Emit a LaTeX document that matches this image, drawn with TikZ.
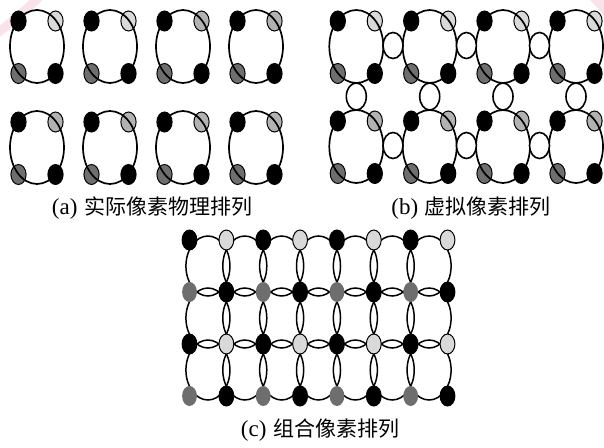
\documentclass[tikz,border=0pt]{standalone}
\usepackage{fontspec}
\setmainfont{Liberation Serif}
\newfontfamily\cjk{Noto Sans CJK SC}

\definecolor{lightdot}{gray}{0.85}
\definecolor{middot}{gray}{0.70}
\definecolor{darkdot}{gray}{0.43}
\definecolor{stamp}{RGB}{246,214,224}

% one physical pixel: centre x, centre y, colour of the upper right sub-pixel
\newcommand\physpixel[3]{%
  \filldraw[subpix, fill=black]  (#1-18.5,#2-25.5) ellipse [x radius=7.6, y radius=10];
  \filldraw[subpix, fill=#3]     (#1+18.5,#2-25.5) ellipse [x radius=7.6, y radius=10];
  \filldraw[subpix, fill=darkdot](#1-18.5,#2+27)   ellipse [x radius=7.6, y radius=10];
  \filldraw[subpix, fill=black]  (#1+18.5,#2+27)   ellipse [x radius=7.6, y radius=10];
  \draw[bigring] (#1,#2) ellipse [x radius=27, y radius=36.5];
}
% caption: Latin label followed by Chinese text
\newcommand\figcap[2]{{\fontsize{23}{26}\selectfont #1}\hspace{6.5pt}{\cjk\fontsize{21}{24}\selectfont #2}}

\begin{document}
\begin{tikzpicture}[x=1pt, y=-1pt,
  bigring/.style={line width=1.7pt},
  subpix/.style={line width=1pt},
  virtpix/.style={line width=1.6pt, fill=white},
  combring/.style={line width=1.5pt},
  caption/.style={inner sep=0pt}]
\useasboundingbox (0,0) rectangle (604,447);

% faint stamp strokes in the corners
\draw[stamp, line width=9pt, line cap=round, opacity=0.7]
  (-4,34) .. controls (12,22) and (26,10) .. (40,-4);
\fill[stamp, opacity=0.7] (590,0) -- (604,0) -- (604,16) .. controls (598,8) .. (590,0);

% (a) physical arrangement
\foreach \cx/\col in {37/lightdot, 110/lightdot, 183/middot, 256/middot}
  \physpixel{\cx}{46.5}{\col};
\foreach \cx in {37, 110, 183, 256}
  \physpixel{\cx}{147.5}{middot};
\node[caption] (capa) at (152,208) {\figcap{(a)}{实际像素物理排列}};

% (b) virtual arrangement
\foreach \cx in {356.3, 429.7, 503, 576}
  \physpixel{\cx}{46.5}{lightdot};
\foreach \cx in {356.3, 429.7, 503, 576}
  \physpixel{\cx}{146.5}{middot};
\foreach \cx in {393, 466.4, 539.5} {
  \filldraw[virtpix] (\cx,45.5)  ellipse [x radius=10, y radius=13];
  \filldraw[virtpix] (\cx,145.5) ellipse [x radius=10, y radius=13];
}
\foreach \cx in {356.3, 429.7, 503, 576}
  \filldraw[virtpix] (\cx,96.5) ellipse [x radius=10, y radius=13.5];
\node[caption] (capb) at (471,208) {\figcap{(b)}{虚拟像素排列}};

% (c) combined arrangement: overlapping rings, sub-pixels on the joints
\foreach \i in {0,...,6}
  \foreach \j in {0,1,2}
    \draw[combring] ({189.5+36.86*(\i+0.5)},{240+52*(\j+0.5)})
      ellipse [x radius=22, y radius=30];
\foreach \i in {0,...,7}
  \foreach \j in {0,...,3} {
    \pgfmathtruncatemacro\ie{mod(\i,2)}
    \pgfmathtruncatemacro\je{mod(\j,2)}
    \ifnum\je=0
      \ifnum\ie=0 \def\dotcol{black}\else\def\dotcol{lightdot}\fi
    \else
      \ifnum\ie=0 \def\dotcol{darkdot}\else\def\dotcol{black}\fi
    \fi
    \ifnum\je=1 \ifnum\ie=0
      \fill[darkdot] ({189.5+36.86*\i},{240+52*\j}) ellipse [x radius=7.4, y radius=10];
    \else
      \filldraw[subpix, fill=\dotcol] ({189.5+36.86*\i},{240+52*\j}) ellipse [x radius=7.4, y radius=10];
    \fi\else
      \filldraw[subpix, fill=\dotcol] ({189.5+36.86*\i},{240+52*\j}) ellipse [x radius=7.4, y radius=10];
    \fi
  }
\node[caption] (capc) at (320,430) {\figcap{(c)}{组合像素排列}};
\end{tikzpicture}
\end{document}
